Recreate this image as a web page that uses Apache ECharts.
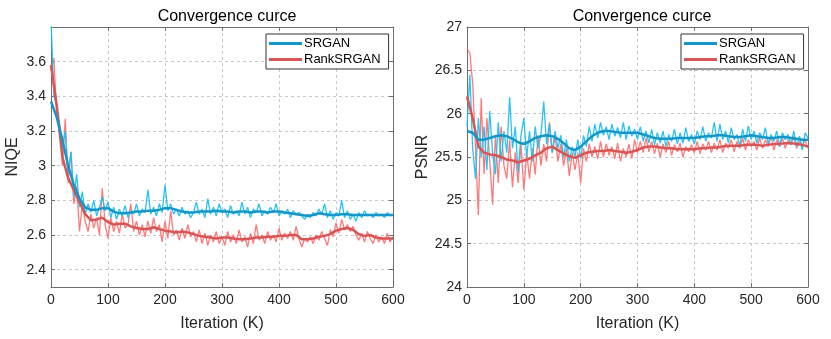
<!DOCTYPE html>
<html><head><meta charset="utf-8">
<script src="https://cdn.jsdelivr.net/npm/echarts@6/dist/echarts.min.js"></script>
<style>html,body{margin:0;padding:0;background:#fff}#c{width:831px;height:339px}</style>
</head><body><div id="c"></div>
<script>
// x step (K iterations) of raw and smoothed samples
const rawStep = 5;
const smoothStep = 10;
const xTicks = [0, 100, 200, 300, 400, 500, 600];
const niqeTicks = [2.4, 2.6, 2.8, 3.0, 3.2, 3.4, 3.6];
const psnrTicks = [24, 24.5, 25, 25.5, 26, 26.5, 27];

const niqeSrganRaw = [3.85,3.40,3.35,3.22,3.10,3.20,2.95,3.08,2.82,2.95,2.76,2.85,2.72,2.78,2.73,2.80,2.71,2.76,2.82,2.74,
2.79,2.70,2.76,2.69,2.75,2.71,2.77,2.70,2.74,2.72,2.78,2.71,2.75,2.73,2.86,2.72,2.76,2.71,2.78,2.73,
2.89,2.74,2.78,2.72,2.75,2.71,2.76,2.72,2.74,2.70,2.73,2.79,2.72,2.75,2.70,2.81,2.72,2.76,2.71,2.78,
2.73,2.75,2.70,2.77,2.72,2.74,2.71,2.79,2.72,2.76,2.70,2.75,2.73,2.78,2.71,2.74,2.72,2.76,2.73,2.78,
2.71,2.74,2.72,2.75,2.70,2.74,2.72,2.73,2.71,2.69,2.72,2.70,2.73,2.71,2.75,2.72,2.78,2.70,2.74,2.69,
2.73,2.71,2.80,2.70,2.74,2.69,2.72,2.68,2.73,2.70,2.74,2.71,2.72,2.70,2.73,2.71,2.72,2.70,2.73,2.71,2.72];
const niqeRankRaw = [3.55,3.62,3.30,3.25,3.00,3.27,2.90,3.08,2.78,2.88,2.62,2.78,2.68,2.62,2.72,2.64,2.70,2.60,2.87,2.66,
2.58,2.70,2.62,2.68,2.61,2.72,2.64,2.66,2.78,2.62,2.68,2.60,2.66,2.59,2.68,2.61,2.70,2.62,2.66,2.56,
2.68,2.58,2.74,2.60,2.63,2.57,2.64,2.58,2.66,2.59,2.62,2.56,2.63,2.55,2.61,2.54,2.60,2.56,2.62,2.55,
2.59,2.54,2.62,2.56,2.60,2.55,2.63,2.56,2.59,2.53,2.61,2.55,2.66,2.57,2.60,2.55,2.62,2.57,2.60,2.56,
2.64,2.57,2.61,2.58,2.62,2.57,2.65,2.58,2.53,2.58,2.56,2.59,2.55,2.60,2.57,2.62,2.58,2.54,2.63,2.59,
2.67,2.61,2.69,2.63,2.66,2.62,2.65,2.60,2.57,2.61,2.56,2.62,2.58,2.55,2.60,2.56,2.59,2.55,2.61,2.56,2.59];
const niqeSrganSmooth = [3.37,3.28,3.15,3.00,2.89,2.81,2.76,2.745,2.745,2.755,2.755,2.735,2.725,2.725,2.73,2.735,2.735,2.74,2.74,2.745,
2.755,2.755,2.745,2.735,2.73,2.73,2.735,2.735,2.735,2.74,2.735,2.735,2.73,2.735,2.735,2.73,2.735,2.735,2.73,2.735,
2.735,2.73,2.725,2.72,2.715,2.71,2.715,2.725,2.72,2.715,2.715,2.72,2.72,2.715,2.715,2.715,2.715,2.715,2.715,2.715,2.715];
const niqeRankSmooth = [3.58,3.35,3.05,2.93,2.86,2.79,2.72,2.685,2.69,2.70,2.675,2.66,2.665,2.665,2.65,2.64,2.635,2.635,2.645,2.635,
2.625,2.62,2.615,2.62,2.615,2.605,2.595,2.59,2.585,2.58,2.585,2.585,2.58,2.575,2.575,2.58,2.585,2.585,2.59,2.59,
2.595,2.595,2.60,2.60,2.575,2.575,2.58,2.59,2.595,2.605,2.625,2.635,2.64,2.63,2.605,2.595,2.60,2.585,2.58,2.58,2.58];

const psnrSrganRaw = [25.85,26.45,25.60,25.25,25.95,25.50,25.85,25.35,26.03,25.55,25.30,25.90,25.45,25.80,25.55,26.19,25.60,25.85,25.32,25.75,
25.95,25.50,25.80,25.45,25.85,25.60,25.75,26.14,25.65,25.88,25.55,25.80,25.60,25.75,25.50,25.70,25.45,25.62,25.50,25.70,
25.48,25.75,25.62,25.85,25.68,25.88,25.72,25.90,25.75,25.85,25.70,25.88,25.74,25.84,25.72,25.90,25.70,25.86,25.74,25.82,
25.70,25.85,25.68,25.80,25.66,25.82,25.64,25.78,25.66,25.80,25.62,25.76,25.68,25.82,25.65,25.78,25.66,25.84,25.68,25.76,
25.65,25.80,25.70,25.85,25.68,25.78,25.72,25.90,25.68,25.88,25.70,25.80,25.66,25.84,25.70,25.76,25.62,25.82,25.68,25.86,
25.70,25.80,25.66,25.78,25.70,25.84,25.65,25.76,25.68,25.80,25.62,25.78,25.70,25.76,25.64,25.80,25.62,25.74,25.58,25.78,25.72];
const psnrRankRaw = [26.75,26.70,26.35,25.60,24.83,26.18,25.30,25.95,25.45,24.95,25.75,25.20,25.85,25.40,25.25,25.70,25.15,25.55,25.20,25.65,
25.12,25.55,25.25,25.60,25.30,25.75,25.40,25.65,25.45,25.90,25.55,25.75,25.45,25.65,25.40,25.60,25.28,25.55,25.35,25.55,
25.20,25.60,25.45,25.65,25.50,25.62,25.48,25.68,25.50,25.65,25.52,25.62,25.48,25.66,25.45,25.60,25.50,25.65,25.48,25.70,
25.55,25.68,25.55,25.72,25.56,25.68,25.54,25.66,25.50,25.65,25.55,25.68,25.52,25.64,25.56,25.66,25.50,25.62,25.56,25.64,
25.55,25.68,25.54,25.65,25.58,25.68,25.55,25.66,25.58,25.70,25.55,25.66,25.60,25.70,25.56,25.68,25.60,25.72,25.58,25.70,
25.62,25.68,25.58,25.72,25.60,25.70,25.62,25.74,25.58,25.70,25.62,25.72,25.60,25.70,25.64,25.74,25.60,25.68,25.62,25.70,25.60];
const psnrSrganSmooth = [25.80,25.78,25.70,25.70,25.72,25.74,25.75,25.74,25.71,25.67,25.65,25.68,25.72,25.74,25.75,25.74,25.71,25.66,25.60,25.58,
25.62,25.68,25.74,25.78,25.80,25.80,25.79,25.78,25.78,25.78,25.78,25.76,25.74,25.72,25.71,25.71,25.71,25.72,25.72,25.72,
25.72,25.73,25.74,25.74,25.75,25.75,25.74,25.73,25.73,25.74,25.75,25.74,25.73,25.72,25.72,25.73,25.73,25.72,25.71,25.70,25.70];
const psnrRankSmooth = [26.20,25.95,25.62,25.55,25.53,25.52,25.50,25.47,25.46,25.44,25.46,25.48,25.52,25.55,25.60,25.62,25.58,25.54,25.51,25.49,
25.52,25.55,25.56,25.57,25.57,25.58,25.57,25.56,25.55,25.56,25.58,25.61,25.62,25.62,25.61,25.60,25.60,25.59,25.59,25.59,
25.59,25.60,25.60,25.61,25.61,25.62,25.63,25.63,25.63,25.64,25.64,25.64,25.63,25.64,25.65,25.65,25.66,25.66,25.65,25.64,25.62];

const COL = {
  blueRaw: '#1cc0f4', blueSm: '#1596c8',
  redRaw: '#ff6a6a', redSm: '#d95454'
};
const FONT = 'Liberation Sans, Arial, sans-serif';
const TXT = '#262626';

function pairs(arr, step) { return arr.map((v, i) => [i * step, v]); }

const grids = [
  {left: 51, right: 438, top: 27, bottom: 52},
  {left: 467, right: 23, top: 27, bottom: 52}
];

function xAxes(gi) {
  return [{
    type: 'value', gridIndex: gi, min: 0, max: 600, interval: 100,
    name: 'Iteration (K)', nameLocation: 'middle', nameGap: 29,
    nameTextStyle: {fontFamily: FONT, fontSize: 16, color: TXT},
    axisLine: {show: true, lineStyle: {color: '#6e6e6e', width: 1}},
    axisTick: {show: true, inside: true, length: 4, lineStyle: {color: '#6e6e6e'}},
    axisLabel: {fontFamily: FONT, fontSize: 14, color: TXT, margin: 6},
    splitLine: {show: true, lineStyle: {color: '#c8c8c8', type: [3, 3], width: 1}}
  }, {
    type: 'value', gridIndex: gi, min: 0, max: 600, interval: 100, position: 'top',
    axisLine: {show: true, onZero: false, lineStyle: {color: '#6e6e6e', width: 1}},
    axisTick: {show: true, inside: true, length: 4, lineStyle: {color: '#6e6e6e'}},
    axisLabel: {show: false}, splitLine: {show: false}
  }];
}

const legendBase = {
  data: ['SRGAN', 'RankSRGAN'], orient: 'vertical', top: 34, width: 118,
  itemWidth: 33, itemHeight: 3, itemGap: 3, icon: 'rect',
  padding: [3, 8, 3, 3], backgroundColor: '#fff', borderColor: '#333', borderWidth: 1, borderRadius: 0,
  textStyle: {fontFamily: FONT, fontSize: 13, color: '#000', padding: [0, 0, 0, -3]}
};

const option = {
  animation: false,
  backgroundColor: '#fff',
  title: [
    {text: 'Convergence curce', left: 222, top: 4, textAlign: 'center',
     textStyle: {fontFamily: FONT, fontSize: 16, fontWeight: 'normal', color: '#000'}},
    {text: 'Convergence curce', left: 637, top: 4, textAlign: 'center',
     textStyle: {fontFamily: FONT, fontSize: 16, fontWeight: 'normal', color: '#000'}}
  ],
  legend: [
    Object.assign({}, legendBase, {left: 266}),
    Object.assign({}, legendBase, {left: 681})
  ],
  grid: grids,
  xAxis: [...xAxes(0), ...xAxes(1)],
  yAxis: [
    {type: 'value', gridIndex: 0, min: 2.3, max: 3.8,
     name: 'NIQE', nameLocation: 'middle', nameGap: 30,
     nameTextStyle: {fontFamily: FONT, fontSize: 16, color: TXT},
     axisLine: {show: true, lineStyle: {color: '#6e6e6e'}},
     axisTick: {show: true, inside: true, length: 4, customValues: niqeTicks, lineStyle: {color: '#6e6e6e'}},
     axisLabel: {fontFamily: FONT, fontSize: 14, color: TXT, margin: 5, customValues: niqeTicks},
     splitLine: {show: true, lineStyle: {color: '#c8c8c8', type: [3, 3]}}},
    {type: 'value', gridIndex: 0, min: 2.3, max: 3.8, position: 'right',
     axisLine: {show: true, onZero: false, lineStyle: {color: '#6e6e6e'}},
     axisTick: {show: true, inside: true, length: 4, customValues: niqeTicks, lineStyle: {color: '#6e6e6e'}},
     axisLabel: {show: false}, splitLine: {show: false}},
    {type: 'value', gridIndex: 1, min: 24, max: 27, interval: 0.5,
     name: 'PSNR', nameLocation: 'middle', nameGap: 36,
     nameTextStyle: {fontFamily: FONT, fontSize: 16, color: TXT},
     axisLine: {show: true, lineStyle: {color: '#6e6e6e'}},
     axisTick: {show: true, inside: true, length: 4, lineStyle: {color: '#6e6e6e'}},
     axisLabel: {fontFamily: FONT, fontSize: 14, color: TXT, margin: 5},
     splitLine: {show: true, lineStyle: {color: '#c8c8c8', type: [3, 3]}}},
    {type: 'value', gridIndex: 1, min: 24, max: 27, interval: 0.5, position: 'right',
     axisLine: {show: true, onZero: false, lineStyle: {color: '#6e6e6e'}},
     axisTick: {show: true, inside: true, length: 4, lineStyle: {color: '#6e6e6e'}},
     axisLabel: {show: false}, splitLine: {show: false}}
  ],
  series: [
    {name: 'RankSRGAN raw', type: 'line', xAxisIndex: 0, yAxisIndex: 0, data: pairs(niqeRankRaw, rawStep),
     showSymbol: false, symbol: 'none', lineStyle: {color: COL.redRaw, width: 1.3, opacity: 0.9}, itemStyle: {color: COL.redRaw}},
    {name: 'SRGAN raw', type: 'line', xAxisIndex: 0, yAxisIndex: 0, data: pairs(niqeSrganRaw, rawStep),
     showSymbol: false, symbol: 'none', lineStyle: {color: COL.blueRaw, width: 1.3, opacity: 0.95}, itemStyle: {color: COL.blueRaw}},
    {name: 'RankSRGAN', type: 'line', xAxisIndex: 0, yAxisIndex: 0, data: pairs(niqeRankSmooth, smoothStep),
     showSymbol: false, symbol: 'none', lineStyle: {color: COL.redSm, width: 2.5}, itemStyle: {color: COL.redSm}},
    {name: 'SRGAN', type: 'line', xAxisIndex: 0, yAxisIndex: 0, data: pairs(niqeSrganSmooth, smoothStep),
     showSymbol: false, symbol: 'none', lineStyle: {color: COL.blueSm, width: 2.5}, itemStyle: {color: COL.blueSm}},

    {name: 'RankSRGAN raw', type: 'line', xAxisIndex: 2, yAxisIndex: 2, data: pairs(psnrRankRaw, rawStep),
     showSymbol: false, symbol: 'none', lineStyle: {color: COL.redRaw, width: 1.3, opacity: 0.9}, itemStyle: {color: COL.redRaw}},
    {name: 'SRGAN raw', type: 'line', xAxisIndex: 2, yAxisIndex: 2, data: pairs(psnrSrganRaw, rawStep),
     showSymbol: false, symbol: 'none', lineStyle: {color: COL.blueRaw, width: 1.3, opacity: 0.95}, itemStyle: {color: COL.blueRaw}},
    {name: 'RankSRGAN', type: 'line', xAxisIndex: 2, yAxisIndex: 2, data: pairs(psnrRankSmooth, smoothStep),
     showSymbol: false, symbol: 'none', lineStyle: {color: COL.redSm, width: 2.5}, itemStyle: {color: COL.redSm}},
    {name: 'SRGAN', type: 'line', xAxisIndex: 2, yAxisIndex: 2, data: pairs(psnrSrganSmooth, smoothStep),
     showSymbol: false, symbol: 'none', lineStyle: {color: COL.blueSm, width: 2.5}, itemStyle: {color: COL.blueSm}}
  ]
};
const chart = echarts.init(document.getElementById('c'), null, {renderer: 'canvas'});
chart.setOption(option);
</script>
</body></html>
